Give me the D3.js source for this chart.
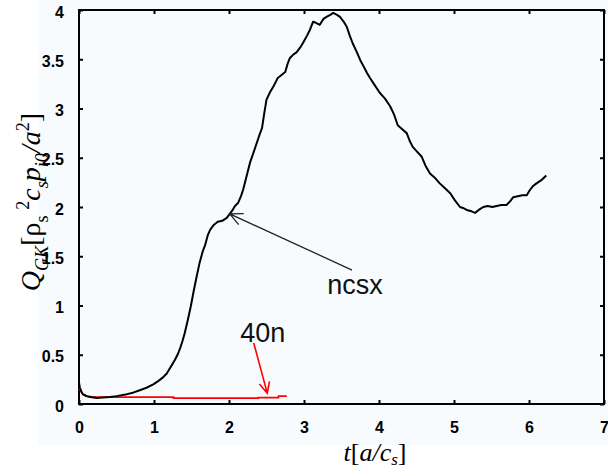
<!DOCTYPE html>
<html>
<head>
<meta charset="utf-8">
<script src="https://cdn.jsdelivr.net/npm/d3@7"></script>
<style>
  body { margin: 0; background: #fff; }
  svg { display: block; }
</style>
</head>
<body>
<div id="chart"></div>
<script>
// ncsx run (black)
const ncsxTime = [0.00, 0.01, 0.03, 0.05, 0.08, 0.10, 0.15, 0.24, 0.32, 0.41, 0.50, 0.64, 0.72, 0.81, 0.90,
  0.99, 1.06, 1.12, 1.17, 1.21, 1.25, 1.28, 1.32, 1.35, 1.38, 1.41, 1.45, 1.49, 1.53, 1.57, 1.61, 1.65,
  1.68, 1.72, 1.75, 1.80, 1.85, 1.91, 1.97, 2.01, 2.04, 2.08, 2.12, 2.16, 2.19, 2.23, 2.28, 2.33, 2.37,
  2.41, 2.44, 2.47, 2.50, 2.55, 2.59, 2.65, 2.70, 2.75, 2.78, 2.81, 2.86, 2.90, 2.95, 2.99, 3.04, 3.08,
  3.12, 3.16, 3.21, 3.26, 3.30, 3.35, 3.39, 3.44, 3.48, 3.53, 3.57, 3.61, 3.65, 3.70, 3.75, 3.80, 3.84,
  3.88, 3.94, 4.01, 4.08, 4.15, 4.20, 4.25, 4.31, 4.37, 4.41, 4.45, 4.51, 4.57, 4.62, 4.68, 4.74, 4.81,
  4.88, 4.95, 5.01, 5.08, 5.12, 5.17, 5.22, 5.28, 5.33, 5.39, 5.45, 5.51, 5.57, 5.63, 5.70, 5.75, 5.79,
  5.85, 5.91, 5.97, 6.01, 6.05, 6.10, 6.16, 6.23];
const ncsxFlux = [0.22, 0.17, 0.13, 0.10, 0.09, 0.08, 0.07, 0.06, 0.065, 0.07, 0.08, 0.10, 0.115, 0.14, 0.165,
  0.20, 0.235, 0.27, 0.31, 0.36, 0.41, 0.45, 0.51, 0.57, 0.64, 0.72, 0.85, 0.99, 1.15, 1.30, 1.44, 1.55,
  1.61, 1.72, 1.77, 1.82, 1.85, 1.86, 1.89, 1.93, 1.96, 2.01, 2.04, 2.11, 2.18, 2.30, 2.45, 2.56, 2.65,
  2.74, 2.80, 2.95, 3.09, 3.17, 3.22, 3.31, 3.34, 3.37, 3.45, 3.51, 3.55, 3.57, 3.62, 3.67, 3.74, 3.80,
  3.88, 3.87, 3.85, 3.91, 3.93, 3.95, 3.97, 3.95, 3.93, 3.88, 3.83, 3.74, 3.66, 3.58, 3.49, 3.42, 3.36,
  3.31, 3.24, 3.16, 3.10, 3.02, 2.94, 2.83, 2.79, 2.75, 2.67, 2.61, 2.56, 2.51, 2.42, 2.34, 2.30, 2.24,
  2.19, 2.14, 2.07, 2.00, 1.99, 1.97, 1.96, 1.94, 1.97, 2.00, 2.01, 2.00, 2.01, 2.02, 2.02, 2.06, 2.10,
  2.11, 2.12, 2.12, 2.17, 2.21, 2.24, 2.27, 2.32];

// 40n run (red)
const n40Time = [0.00, 0.03, 0.06, 0.10, 0.20, 0.40, 1.26, 1.26, 2.39, 2.39, 2.66, 2.66, 2.77];
const n40Flux = [0.16, 0.12, 0.09, 0.08, 0.07, 0.07, 0.07, 0.06, 0.06, 0.065, 0.065, 0.08, 0.08];

const xTicks = [0, 1, 2, 3, 4, 5, 6, 7];
const yTicks = [0, 0.5, 1, 1.5, 2, 2.5, 3, 3.5, 4];

// annotations: [label, text pos, arrow tail, arrow tip] in data units
const noteNcsx = { label: "ncsx", text: [3.31, 1.12], from: [3.64, 1.36], to: [2.01, 1.93] };
const note40n = { label: "40n", text: [2.15, 0.63], from: [2.33, 0.62], to: [2.51, 0.11] };

const W = 608, H = 469;
const margin = { left: 79, top: 10, right: 4, bottom: 65 };

const svg = d3.select('#chart').append('svg')
    .attr('width', W)
    .attr('height', H);

// faint tinted plot area like the original
svg.append('rect')
    .attr('x', 38).attr('y', 0)
    .attr('width', W - 38).attr('height', 445)
    .attr('fill', '#f8fbfe');

const x = d3.scaleLinear().domain([0, 7]).range([margin.left, W - margin.right]);
const y = d3.scaleLinear().domain([0, 4]).range([H - margin.bottom, margin.top]);

const tickFont = g => g.selectAll('text')
    .attr('font-family', 'Liberation Sans, Arial, sans-serif')
    .attr('font-size', 16)
    .attr('font-weight', 'bold')
    .attr('fill', '#000');

// axes, ticks pointing inward, mirrored on top/right
svg.append('g')
    .attr('transform', `translate(0,${y(0)})`)
    .call(d3.axisBottom(x).tickValues(xTicks).tickFormat(d3.format('d')).tickSizeInner(-4).tickSizeOuter(0).tickPadding(18))
    .call(g => g.select('.domain').remove())
    .call(g => g.selectAll('line').attr('stroke', '#000').attr('stroke-width', 2))
    .call(tickFont);

svg.append('g')
    .attr('transform', `translate(${x(0)},0)`)
    .call(d3.axisLeft(y).tickValues(yTicks).tickFormat(d => d).tickSizeInner(-4).tickSizeOuter(0).tickPadding(15))
    .call(g => g.select('.domain').remove())
    .call(g => g.selectAll('line').attr('stroke', '#000').attr('stroke-width', 2))
    .call(tickFont)
    .call(g => g.selectAll('text').attr('dy', '0.45em'));

svg.append('g')
    .attr('transform', `translate(0,${y(4)})`)
    .call(d3.axisTop(x).tickValues(xTicks).tickFormat('').tickSizeInner(-4).tickSizeOuter(0))
    .call(g => g.select('.domain').remove())
    .call(g => g.selectAll('line').attr('stroke', '#000').attr('stroke-width', 2));

svg.append('g')
    .attr('transform', `translate(${x(7)},0)`)
    .call(d3.axisRight(y).tickValues(yTicks).tickFormat('').tickSizeInner(-4).tickSizeOuter(0))
    .call(g => g.select('.domain').remove())
    .call(g => g.selectAll('line').attr('stroke', '#000').attr('stroke-width', 2));

// frame
svg.append('rect')
    .attr('x', x(0)).attr('y', y(4))
    .attr('width', x(7) - x(0)).attr('height', y(0) - y(4))
    .attr('fill', 'none')
    .attr('stroke', '#000')
    .attr('stroke-width', 2);

const line = d3.line()
    .x(d => x(d[0]))
    .y(d => y(d[1]));

svg.append('path')
    .datum(d3.zip(n40Time, n40Flux))
    .attr('d', line)
    .attr('fill', 'none')
    .attr('stroke', '#ff0000')
    .attr('stroke-width', 1.6);

svg.append('path')
    .datum(d3.zip(ncsxTime, ncsxFlux))
    .attr('d', line)
    .attr('fill', 'none')
    .attr('stroke', '#000')
    .attr('stroke-width', 2)
    .attr('stroke-linejoin', 'round');

// annotation arrows with V heads
function arrow(note, color, width, headLen) {
    const [x1, y1] = [x(note.from[0]), y(note.from[1])];
    const [x2, y2] = [x(note.to[0]), y(note.to[1])];
    const a = Math.atan2(y2 - y1, x2 - x1);
    const spread = 0.45;
    const h1 = [x2 - headLen * Math.cos(a - spread), y2 - headLen * Math.sin(a - spread)];
    const h2 = [x2 - headLen * Math.cos(a + spread), y2 - headLen * Math.sin(a + spread)];
    svg.append('path')
        .attr('d', `M${x1},${y1}L${x2},${y2}M${h1}L${x2},${y2}L${h2}`)
        .attr('fill', 'none')
        .attr('stroke', color)
        .attr('stroke-width', width);
    svg.append('text')
        .attr('x', x(note.text[0]))
        .attr('y', y(note.text[1]))
        .attr('font-family', 'Liberation Sans, Arial, sans-serif')
        .attr('font-size', 27)
        .attr('fill', '#111')
        .text(note.label);
}
arrow(noteNcsx, '#222', 1.3, 14);
arrow(note40n, '#ff0000', 1.6, 12);

// axis titles with sub/superscripts
function richText(sel, parts, size, subShift) {
    let shift = 0;
    parts.forEach(([txt, italic, pos]) => {
        const target = pos === 'sub' ? size * subShift : pos === 'sup' ? -size * 0.38 : 0;
        sel.append('tspan')
            .attr('dy', target - shift)
            .attr('font-style', italic ? 'italic' : 'normal')
            .attr('font-size', pos ? size * 0.65 : size)
            .text(txt);
        shift = target;
    });
}

const yTitle = svg.append('text')
    .attr('transform', `translate(40,${y(2.05)}) rotate(-90)`)
    .attr('text-anchor', 'middle')
    .attr('font-family', 'Liberation Serif, Times New Roman, serif')
    .attr('font-size', 28)
    .attr('fill', '#000');
richText(yTitle, [
    ['Q', true, null], ['GK', true, 'sub'], ['[ρ', false, null], ['s', false, 'sub'], ['\u2009', false, null],
    ['2', false, 'sup'], ['c', true, null], ['s', true, 'sub'], ['p', true, null], ['i0', true, 'sub'],
    ['/a', true, null], ['2', false, 'sup'], [']', false, null]
], 28, 0.27);

const xTitle = svg.append('text')
    .attr('x', 375)
    .attr('y', 461)
    .attr('text-anchor', 'middle')
    .attr('font-family', 'Liberation Serif, Times New Roman, serif')
    .attr('font-size', 26)
    .attr('fill', '#000');
richText(xTitle, [
    ['t', true, null], ['[', false, null], ['a/c', true, null], ['s', true, 'sub'], [']', false, null]
], 26, 0.15);
</script>
</body>
</html>
